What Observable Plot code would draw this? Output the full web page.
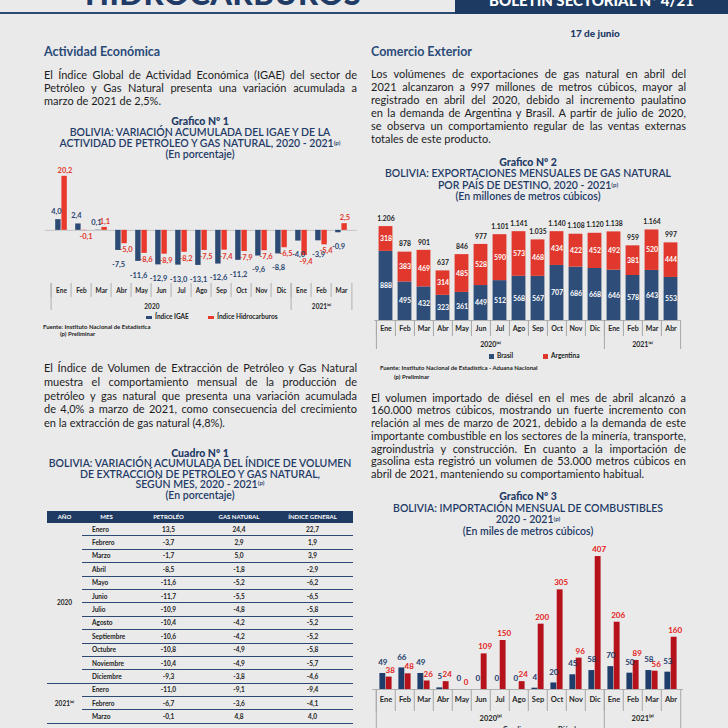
<!DOCTYPE html>
<html><head><meta charset="utf-8">
<script src="https://cdn.jsdelivr.net/npm/d3@7"></script>
<script src="https://cdn.jsdelivr.net/npm/@observablehq/plot@0.6"></script>
<style>
html,body{margin:0;padding:0}
body{width:728px;height:728px;overflow:hidden;background:#eaeaeb;position:relative;font-family:Lato,"Noto Sans",sans-serif;color:#1a1a1a}
.a{position:absolute}
.h{font-weight:700;color:#2a4a78;font-size:12.5px;line-height:15px}
.p{font-size:11px;color:#1d1d1d}
.p div{white-space:nowrap;text-align:justify;text-align-last:justify}
.p div.l{text-align-last:left}
.t{color:#1f3b66;text-align:center;font-size:10.5px;font-weight:600;white-space:nowrap}
.t b{font-weight:900}
sup{font-size:60%;vertical-align:top;position:relative;top:-1px}
.src{font-size:6px;font-weight:700;color:#222;line-height:7px;white-space:nowrap}
.lg{font-size:6.5px;color:#222;font-weight:700;white-space:nowrap;line-height:8px}
.sw{display:inline-block;vertical-align:middle;margin-right:3px}
table{border-collapse:collapse;table-layout:fixed;font-size:6.5px;color:#222}
th{background:#1f3b63;color:#fff;font-weight:700;font-size:6px;height:12.5px;padding:0;text-align:center}
td{padding:0;text-align:center;font-weight:700;height:12.4px;border-bottom:1.2px solid #2e4a74}
td.m{text-align:left;padding-left:10px}
</style></head><body>
<!-- header -->
<div class="a" style="left:0;top:12px;width:455px;height:2px;background:#2b4a73"></div>
<div class="a" style="left:455px;top:0;width:273px;height:14px;background:#1c3a62"></div>
<div class="a" style="left:85px;top:-22px;font-size:31px;line-height:31px;font-weight:900;color:#1f3b66;letter-spacing:0.5px">HIDROCARBUROS</div>
<div class="a" style="left:455px;top:-8px;width:273px;text-align:center;color:#fff;font-weight:900;font-size:15px;line-height:16px">BOLETÍN SECTORIAL Nº 4/21</div>
<div class="a" style="left:560px;top:27px;width:70px;text-align:center;font-size:10px;font-weight:900;color:#1f3b66;line-height:12px">17 de junio</div>

<div class="a h" style="left:44px;top:43.5px">Actividad Económica</div>
<div class="a h" style="left:371px;top:43.5px">Comercio Exterior</div>

<div class="a p" style="left:44px;top:67.5px;width:313px;line-height:13px">
<div>El Índice Global de Actividad Económica (IGAE) del sector de</div>
<div>Petróleo y Gas Natural presenta una variación acumulada a</div>
<div class="l">marzo de 2021 de 2,5%.</div>
</div>

<div class="a p" style="left:371px;top:66.5px;width:315px;line-height:13px">
<div>Los volúmenes de exportaciones de gas natural en abril del</div>
<div>2021 alcanzaron a 997 millones de metros cúbicos, mayor al</div>
<div>registrado en abril del 2020, debido al incremento paulatino</div>
<div>en la demanda de Argentina y Brasil. A partir de julio de 2020,</div>
<div>se observa un comportamiento regular de las ventas externas</div>
<div class="l">totales de este producto.</div>
</div>

<div class="a p" style="left:44px;top:361px;width:313px;line-height:13.8px">
<div>El Índice de Volumen de Extracción de Petróleo y Gas Natural</div>
<div>muestra el comportamiento mensual de la producción de</div>
<div>petróleo y gas natural que presenta una variación acumulada</div>
<div>de 4,0% a marzo de 2021, como consecuencia del crecimiento</div>
<div class="l">en la extracción de gas natural (4,8%).</div>
</div>

<div class="a p" style="left:371px;top:391.5px;width:315px;line-height:12.8px">
<div>El volumen importado de diésel en el mes de abril alcanzó a</div>
<div>160.000 metros cúbicos, mostrando un fuerte incremento con</div>
<div>relación al mes de marzo de 2021, debido a la demanda de este</div>
<div style="word-spacing:-2.5px">importante combustible en los sectores de la minería, transporte,</div>
<div>agroindustria y construcción. En cuanto a la importación de</div>
<div>gasolina esta registró un volumen de 53.000 metros cúbicos en</div>
<div class="l">abril de 2021, manteniendo su comportamiento habitual.</div>
</div>

<!-- titles -->
<div class="a t" style="left:30px;top:116px;width:340px;line-height:11px">
<div><b>Grafico Nº 1</b></div>
<div>BOLIVIA: VARIACIÓN ACUMULADA DEL IGAE Y DE LA</div>
<div>ACTIVIDAD DE PETRÓLEO Y GAS NATURAL, 2020 - 2021<sup>(p)</sup></div>
<div>(En porcentaje)</div>
</div>
<div class="a t" style="left:365px;top:157px;width:326px;line-height:11.4px">
<div><b>Grafico Nº 2</b></div>
<div>BOLIVIA: EXPORTACIONES MENSUALES DE GAS NATURAL</div>
<div>POR PAÍS DE DESTINO, 2020 - 2021<sup>(p)</sup></div>
<div>(En millones de metros cúbicos)</div>
</div>
<div class="a t" style="left:30px;top:447.5px;width:340px;line-height:10.5px">
<div><b>Cuadro Nº 1</b></div>
<div>BOLIVIA: VARIACIÓN ACUMULADA DEL ÍNDICE DE VOLUMEN</div>
<div>DE EXTRACCIÓN DE PETRÓLEO Y GAS NATURAL,</div>
<div>SEGÚN MES, 2020 - 2021<sup>(p)</sup></div>
<div>(En porcentaje)</div>
</div>
<div class="a t" style="left:365px;top:491px;width:326px;line-height:11.7px">
<div><b>Grafico Nº 3</b></div>
<div>BOLIVIA: IMPORTACIÓN MENSUAL DE COMBUSTIBLES</div>
<div>2020 - 2021<sup>(p)</sup></div>
<div>(En miles de metros cúbicos)</div>
</div>

<div id="c1" class="a" style="left:30px;top:161px"></div>
<div id="c2" class="a" style="left:365px;top:204px"></div>
<div id="c3" class="a" style="left:365px;top:536px"></div>
<div id="tb" class="a" style="left:47px;top:510.5px"></div>

<!-- legends / sources -->
<div class="a lg" style="left:146px;top:313px"><span class="sw" style="width:6px;height:3px;background:#2c4a74"></span>Índice IGAE</div>
<div class="a lg" style="left:208px;top:313px"><span class="sw" style="width:6px;height:3px;background:#e8392c"></span>Índice Hidrocarburos</div>
<div class="a src" style="left:43px;top:323px">Fuente: Instituto Nacional de Estadística</div>
<div class="a src" style="left:60px;top:330px">(p) Preliminar</div>

<div class="a lg" style="left:489px;top:352px"><span class="sw" style="width:5px;height:5px;background:#2e4d78"></span>Brasil</div>
<div class="a lg" style="left:543px;top:352px"><span class="sw" style="width:5px;height:5px;background:#e0382c"></span>Argentina</div>
<div class="a src" style="left:380px;top:363.5px">Fuente: Instituto Nacional de Estadística - Aduana Nacional</div>
<div class="a src" style="left:394px;top:373px">(p) Preliminar</div>

<div class="a lg" style="left:495px;top:726px"><span class="sw" style="width:5px;height:5px;background:#1f3d6b"></span>Gasolina</div>
<div class="a lg" style="left:550px;top:726px"><span class="sw" style="width:5px;height:5px;background:#b5121b"></span>Diésel</div>

<script>
// ---------- DATA ----------
const g1Months = ["Ene","Feb","Mar","Abr","May","Jun","Jul","Ago","Sep","Oct","Nov","Dic","Ene","Feb","Mar"];
const g1Years  = ["2020","2020","2020","2020","2020","2020","2020","2020","2020","2020","2020","2020","2021","2021","2021"];
const igae  = [4.0, 2.4, 0.1, -7.5, -11.6, -12.9, -13.0, -13.1, -12.6, -11.2, -9.6, -8.8, -4.0, -3.9, -0.9];
const hidro = [20.2, -0.1, 1.1, -5.0, -8.6, -8.9, -8.2, -7.5, -7.4, -7.9, -7.6, -6.5, -9.4, -5.4, 2.5];

const g2Months = ["Ene","Feb","Mar","Abr","May","Jun","Jul","Ago","Sep","Oct","Nov","Dic","Ene","Feb","Mar","Abr"];
const g2Years  = ["2020","2020","2020","2020","2020","2020","2020","2020","2020","2020","2020","2020","2021","2021","2021","2021"];
const brasil    = [888, 495, 432, 323, 361, 449, 512, 568, 567, 707, 686, 668, 646, 578, 643, 553];
const argentina = [318, 383, 469, 314, 485, 528, 590, 573, 468, 434, 422, 452, 492, 381, 520, 444];
const totales   = [1206, 878, 901, 637, 846, 977, 1101, 1141, 1035, 1140, 1108, 1120, 1138, 959, 1164, 997];

const gasolina = [49, 66, 49, 5, 0, 0, 0, 0, 4, 20, 45, 58, 70, 50, 58, 53];
const diesel   = [38, 48, 26, 24, 0, 109, 150, 24, 200, 305, 96, 407, 206, 89, 56, 160];

const tMeses = ["Enero","Febrero","Marzo","Abril","Mayo","Junio","Julio","Agosto","Septiembre","Octubre","Noviembre","Diciembre","Enero","Febrero","Marzo"];
const tAnios = ["2020","2020","2020","2020","2020","2020","2020","2020","2020","2020","2020","2020","2021","2021","2021"];
const petroleo = [13.5, -3.7, -1.7, -8.5, -11.6, -11.7, -10.9, -10.4, -10.6, -10.8, -10.4, -9.3, -11.0, -6.7, -0.1];
const gasNat   = [24.4, 2.9, 5.0, -1.8, -5.2, -5.5, -4.8, -4.2, -4.2, -4.9, -4.9, -3.8, -9.1, -3.6, 4.8];
const indiceGen= [22.7, 1.9, 3.9, -2.9, -6.2, -6.5, -5.8, -5.2, -5.2, -5.8, -5.7, -4.6, -9.4, -4.1, 4.0];
const tHeaders = ["AÑO","MES","PETROLÉO","GAS NATURAL","ÍNDICE GENERAL"];
const yearLabel = {"2020": "2020", "2021": "2021⁽ᵖ⁾"};

// ---------- helpers ----------
const dec = v => d3.format(".1f")(v).replace(".", ",").replace("−", "-");
const thou = v => d3.format(",")(v).replace(/,/g, ".");
const mkKey = (m, y, i) => m + "|" + y + "|" + i;
const mon = k => k.split("|")[0];

function catAxis(keys, step, o) {
  const first21 = keys.find(k => k.split("|")[1] === "2021");
  const last = keys[keys.length - 1];
  const c = {anchor: "bottom", label: null, stroke: o.sep, tickFormat: () => ""};
  return [
    Plot.axisX({...c, ticks: keys, tickSize: o.sepLen, dy: o.sepTop, dx: -step / 2}),
    Plot.axisX({...c, ticks: [keys[0], first21], tickSize: o.yearLen, dy: o.sepTop, dx: -step / 2}),
    Plot.axisX({...c, ticks: [last], tickSize: o.yearLen, dy: o.sepTop, dx: step / 2}),
    Plot.axisX({anchor: "bottom", label: null, ticks: keys, tickSize: 0, tickPadding: o.labPad,
      tickFormat: mon, fontSize: o.fs, fontWeight: 700, fill: "#262626"}),
    Plot.axisX({anchor: "bottom", label: null, ticks: [keys[o.y20i]], tickSize: 0, tickPadding: o.yearPad,
      dx: o.y20dx, tickFormat: () => o.y20t, fontSize: o.fs, fontWeight: 700, fill: "#262626"}),
    Plot.axisX({anchor: "bottom", label: null, ticks: [keys[o.y21i]], tickSize: 0, tickPadding: o.yearPad,
      dx: o.y21dx, tickFormat: () => yearLabel["2021"], fontSize: o.fs, fontWeight: 700, fill: "#262626"})
  ];
}

// ---------- Chart 1 ----------
{
  const d = g1Months.map((m, i) => ({key: mkKey(m, g1Years[i], i), igae: igae[i], hidro: hidro[i]}));
  const keys = d.map(r => r.key);
  const W = 340, ml = 15, mr = 13;
  const step = (W - ml - mr) / keys.length, bw = 6.2, ins = (step - 2 * bw) / 2;
  const navy = "#2c4a74", red = "#e8392c";
  const p = Plot.plot({
    width: W, height: 151, marginTop: 10, marginBottom: 42, marginLeft: ml, marginRight: mr,
    x: {type: "band", domain: keys, padding: 0},
    y: {domain: [-15, 22], axis: null},
    style: {background: "transparent", overflow: "visible", fontFamily: "Lato, sans-serif"},
    marks: [
      Plot.ruleY([0], {stroke: "#c4c4c4"}),
      Plot.barY(d, {x: "key", y: "igae", fill: navy, insetLeft: ins, insetRight: ins + bw}),
      Plot.barY(d, {x: "key", y: "hidro", fill: red, insetLeft: ins + bw, insetRight: ins}),
      Plot.text(d, {filter: r => r.igae >= 0, x: "key", y: "igae", text: r => dec(r.igae), dx: -5, dy: -8, fill: "#2b4670", fontSize: 7.5, fontWeight: 700}),
      Plot.text(d, {filter: r => r.igae < 0, x: "key", y: "igae", text: r => dec(r.igae), dx: -3, dy: 14, fill: "#2b4670", fontSize: 7.5, fontWeight: 700}),
      Plot.text(d, {filter: r => r.hidro >= 0, x: "key", y: "hidro", text: r => dec(r.hidro), dx: 3.5, dy: -6, fill: "#e0392b", fontSize: 7.5, fontWeight: 700}),
      Plot.text(d, {filter: r => r.hidro < 0, x: "key", y: "hidro", text: r => dec(r.hidro), dx: 4.5, dy: 6, fill: "#e0392b", fontSize: 7.5, fontWeight: 700}),
      ...catAxis(keys, step, {sep: "#b0b0b0", sepTop: 13, sepLen: 14, yearLen: 27, labPad: 17.5, yearPad: 33.5, fs: 6.5,
        y20i: 4, y20dx: step / 2, y20t: "2020", y21i: 13, y21dx: 0})
    ]
  });
  document.getElementById("c1").append(p);
}

// ---------- Chart 2 ----------
{
  const keys = g2Months.map((m, i) => mkKey(m, g2Years[i], i));
  const d = [];
  keys.forEach((k, i) => {
    d.push({key: k, series: "Brasil", value: brasil[i]});
    d.push({key: k, series: "Argentina", value: argentina[i]});
  });
  const tot = keys.map((k, i) => ({key: k, total: totales[i]}));
  const W = 360, ml = 9.3, mr = 44;
  const step = (W - ml - mr) / keys.length, ins = (step - 14) / 2;
  const p = Plot.plot({
    width: W, height: 148, marginTop: 7, marginBottom: 32, marginLeft: ml, marginRight: mr,
    x: {type: "band", domain: keys, padding: 0},
    y: {domain: [0, 1400], axis: null},
    color: {domain: ["Brasil", "Argentina"], range: ["#2e4d78", "#e0382c"]},
    style: {background: "transparent", overflow: "visible", fontFamily: "Lato, sans-serif"},
    marks: [
      Plot.barY(d, Plot.stackY({x: "key", y: "value", fill: "series", insetLeft: ins, insetRight: ins})),
      Plot.text(d, Plot.stackY({x: "key", y: "value", z: "series", text: r => thou(r.value), fill: "white", fontSize: 7, fontWeight: 700})),
      Plot.text(tot, {x: "key", y: "total", text: r => thou(r.total), dy: -8, fill: "#222", fontSize: 6.8, fontWeight: 700}),
      Plot.ruleY([0], {stroke: "#b0b0b0"}),
      ...catAxis(keys, step, {sep: "#a8a8a8", sepTop: 0, sepLen: 16, yearLen: 29, labPad: 5.5, yearPad: 21.5, fs: 7,
        y20i: 5, y20dx: step / 2, y20t: "2020⁽ᵖ⁾", y21i: 13, y21dx: step / 2})
    ]
  });
  document.getElementById("c2").append(p);
}

// ---------- Chart 3 ----------
{
  const d = g2Months.map((m, i) => ({key: mkKey(m, g2Years[i], i), gas: gasolina[i], die: diesel[i]}));
  const keys = d.map(r => r.key);
  const W = 360, ml = 7.3, mr = 42;
  const step = (W - ml - mr) / keys.length, bw = 6.3, ins = (step - 2 * bw) / 2;
  const p = Plot.plot({
    width: W, height: 192, marginTop: 6, marginBottom: 39, marginLeft: ml, marginRight: mr,
    x: {type: "band", domain: keys, padding: 0},
    y: {domain: [0, 450], axis: null},
    style: {background: "transparent", overflow: "visible", fontFamily: "Lato, sans-serif"},
    marks: [
      Plot.barY(d, {x: "key", y: "gas", fill: "#1f3d6b", insetLeft: ins, insetRight: ins + bw}),
      Plot.barY(d, {x: "key", y: "die", fill: "#b5121b", insetLeft: ins + bw, insetRight: ins}),
      Plot.text(d, {x: "key", y: "gas", text: r => String(r.gas), dx: -bw / 2, dy: -11, fill: "#1f3d6b", fontSize: 8, fontWeight: 700}),
      Plot.text(d, {x: "key", y: "die", text: r => String(r.die), dx: bw / 2 + 1, dy: -7, fill: "#e2231a", fontSize: 8, fontWeight: 700}),
      Plot.ruleY([0], {stroke: "#b0b0b0"}),
      ...catAxis(keys, step, {sep: "#a8a8a8", sepTop: 0, sepLen: 22, yearLen: 45, labPad: 7, yearPad: 26.5, fs: 7.5,
        y20i: 5, y20dx: step / 2, y20t: "2020⁽ᵖ⁾", y21i: 13, y21dx: step / 2})
    ]
  });
  document.getElementById("c3").append(p);
}

// ---------- Table ----------
{
  const widths = [35, 49, 75, 66, 81];
  const tb = d3.select("#tb").append("table").style("width", d3.sum(widths) + "px");
  const cg = tb.append("colgroup");
  widths.forEach(w => cg.append("col").style("width", w + "px"));
  tb.append("thead").append("tr").selectAll("th").data(tHeaders).join("th").text(h => h);
  const body = tb.append("tbody");
  tMeses.forEach((m, i) => {
    const tr = body.append("tr");
    if (i === 0 || tAnios[i] !== tAnios[i - 1]) {
      const span = tAnios.filter(y => y === tAnios[i]).length;
      tr.append("td").attr("rowspan", span).text(yearLabel[tAnios[i]]);
    }
    tr.append("td").attr("class", "m").text(m);
    tr.append("td").text(dec(petroleo[i]));
    tr.append("td").text(dec(gasNat[i]));
    tr.append("td").text(dec(indiceGen[i]));
  });
}
</script>
</body></html>
